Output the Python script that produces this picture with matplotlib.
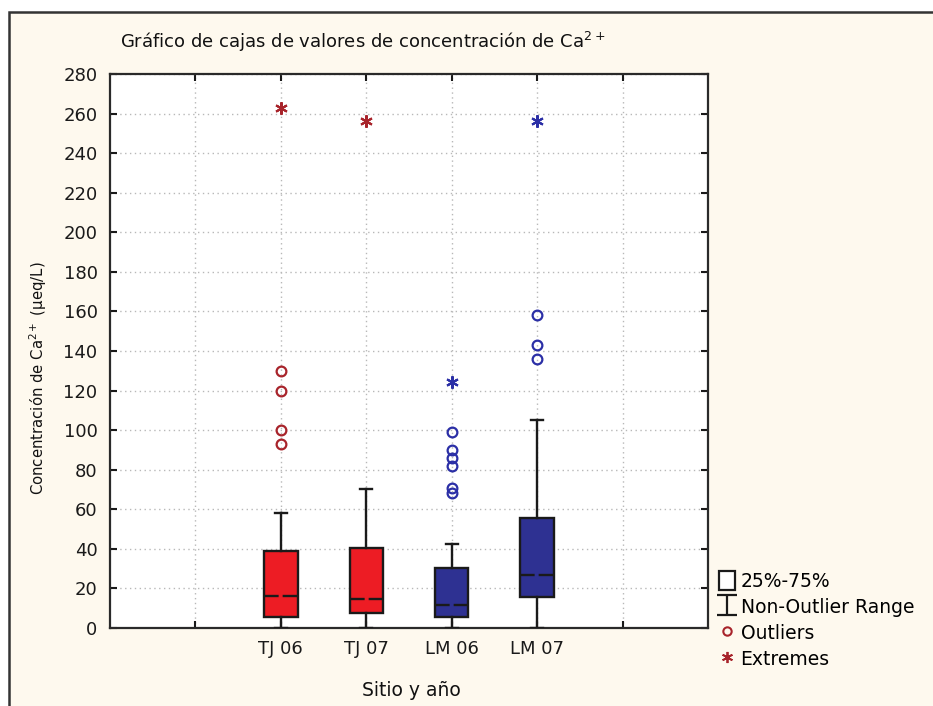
import matplotlib
matplotlib.use('Agg')
import matplotlib.pyplot as plt
from matplotlib.patches import Rectangle, Patch
from matplotlib.lines import Line2D
from matplotlib.path import Path

# ---- data ----
categories = ['TJ 06', 'TJ 07', 'LM 06', 'LM 07']
q1 = [5.5, 7.5, 5.5, 15.5]
median = [16.0, 14.6, 11.6, 26.7]
q3 = [38.8, 40.3, 30.2, 55.4]
whisker_low = [0, 0, 0, 0]
whisker_high = [58.0, 70.5, 42.3, 105.0]
outliers = [[130, 120, 100, 93], [], [99, 90, 86, 82, 71, 68], [158, 143, 136]]
extremes = [[263], [256], [124.5], [256]]
y_ticks = list(range(0, 281, 20))

title = 'Gráfico de cajas de valores de concentración de Ca$^{2+}$'
ylabel = 'Concentración de Ca$^{2+}$ (µeq/L)'
xlabel = 'Sitio y año'

box_colors = ['#ED1C24', '#ED1C24', '#2E3192', '#2E3192']
point_colors = ['#A8242B', '#A8242B', '#2B2FA6', '#2B2FA6']

plt.rcParams['font.family'] = ['DejaVu Sans']

fig = plt.figure(figsize=(9.33, 7.06), dpi=100, facecolor='white')
fig.add_artist(Rectangle((9 / 933, -0.05), 1.2, 1 - 12 / 706 + 0.05,
                         transform=fig.transFigure, facecolor='#FEF9EE',
                         edgecolor='#333333', linewidth=1.8, zorder=0))

ax = fig.add_axes([110 / 933, 78 / 706, 598 / 933, 554 / 706])
ax.set_facecolor('white')

positions = [2, 3, 4, 5]
stats = []
for c, a, m, b, lo, hi in zip(categories, q1, median, q3, whisker_low, whisker_high):
    stats.append(dict(label=c, q1=a, med=m, q3=b, whislo=lo, whishi=hi, fliers=[]))

bp = ax.bxp(stats, positions=positions, widths=0.39, patch_artist=True,
            showfliers=False, capwidths=0.14,
            boxprops=dict(linewidth=1.7, edgecolor='#1a1a1a'),
            whiskerprops=dict(linewidth=1.7, color='#1a1a1a'),
            capprops=dict(linewidth=1.7, color='#1a1a1a'),
            medianprops=dict(linewidth=1.7, color='#1a1a1a', linestyle=(0, (6.2, 1.7))))
for patch, col in zip(bp['boxes'], box_colors):
    patch.set_facecolor(col)
for artist_list in bp.values():
    for art in artist_list:
        art.set_zorder(3)

for pos, vals, col in zip(positions, outliers, point_colors):
    if vals:
        ax.plot([pos] * len(vals), vals, linestyle='none', marker='o',
                markerfacecolor='none', markeredgecolor=col, markersize=7,
                markeredgewidth=1.6, zorder=4)
for pos, vals, col in zip(positions, extremes, point_colors):
    ax.plot([pos] * len(vals), vals, linestyle='none', marker=(6, 2, 0),
            color=col, markersize=9, markeredgewidth=1.5, zorder=4)

ax.set_xlim(0, 7)
ax.set_ylim(0, 280)
ax.set_xticks(range(1, 7))
ax.set_xticklabels([''] + categories + [''])
ax.set_yticks(y_ticks)
ax.set_yticklabels([str(v) for v in y_ticks])
ax.tick_params(direction='in', length=5, width=1.5, colors='#1a1a1a',
               top=True, right=True, labelsize=13, pad=9)
ax.set_axisbelow(True)
ax.grid(True, linestyle=(0, (1, 2.5)), color='#B8B8B8', linewidth=1.0)
for s in ax.spines.values():
    s.set_linewidth(1.6)
    s.set_color('#2a2a2a')

fig.text(120 / 933, 1 - 42 / 706, title, fontsize=13,
         va='center', ha='left', color='#111111')
fig.text(38 / 933, 1 - 378 / 706, ylabel, fontsize=10.7, rotation=90,
         va='center', ha='center', color='#111111')
fig.text(411 / 933, 1 - 690 / 706, xlabel, fontsize=13.5,
         va='center', ha='center', color='#111111')

i_path = Path([(-1, 1), (1, 1), (0, 1), (0, -1), (-1, -1), (1, -1)],
              [Path.MOVETO, Path.LINETO, Path.MOVETO, Path.LINETO, Path.MOVETO, Path.LINETO])
handles = [
    Patch(facecolor='white', edgecolor='#1a1a1a', linewidth=1.6),
    Line2D([], [], linestyle='none', marker=i_path, markersize=15,
           markeredgecolor='#1a1a1a', markeredgewidth=1.6, markerfacecolor='none'),
    Line2D([], [], linestyle='none', marker='o', markerfacecolor='none',
           markeredgecolor=point_colors[0], markersize=6, markeredgewidth=1.5),
    Line2D([], [], linestyle='none', marker=(6, 2, 0), color=point_colors[0],
           markersize=8, markeredgewidth=1.3),
]
labels = ['25%-75%', 'Non-Outlier Range', 'Outliers', 'Extremes']
fig.legend(handles, labels, loc='upper left', bbox_to_anchor=(719 / 933, 1 - 571 / 706),
           frameon=False, fontsize=13.5, handlelength=0.85, handleheight=1.2,
           handletextpad=0.3, labelspacing=0.32, borderaxespad=0, borderpad=0)

fig.savefig('out.png', dpi=100, facecolor=fig.get_facecolor())
